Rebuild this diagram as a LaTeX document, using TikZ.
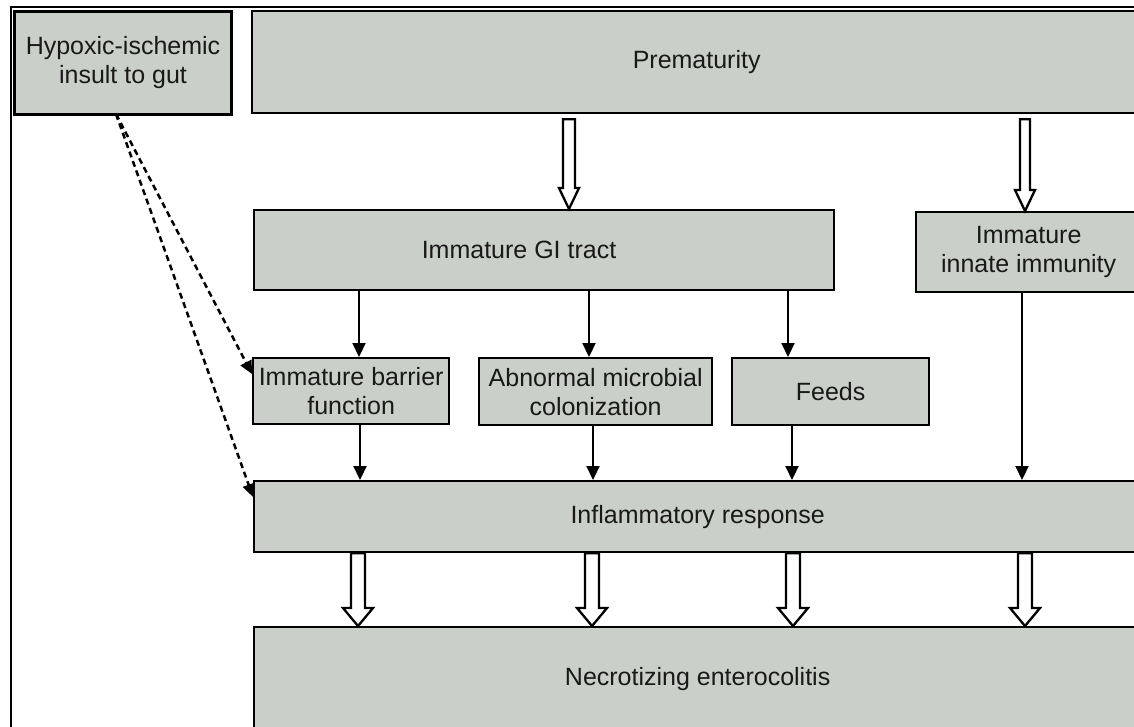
\documentclass[tikz,border=0pt]{standalone}
\usepackage{fontspec}
\setmainfont{Liberation Sans}
\usetikzlibrary{arrows.meta,calc}
\definecolor{boxfill}{RGB}{203,207,201}
\definecolor{txt}{RGB}{25,25,25}
\newcommand\holarrow[7]{% x, from node, gap, to node, shaft hw, head hw, head length
  \draw[hollowarrow] let \p1=(#2.south), \p2=(#4.north) in
    (#1pt-#5pt,\y1-#3pt) -- (#1pt-#5pt,\y2+#7pt) -- (#1pt-#6pt,\y2+#7pt) --
    (#1pt,\y2) -- (#1pt+#6pt,\y2+#7pt) -- (#1pt+#5pt,\y2+#7pt) --
    (#1pt+#5pt,\y1-#3pt) -- cycle;}
\begin{document}
\begin{tikzpicture}[x=1pt,y=-1pt,
  box/.style={draw=black, fill=boxfill, line width=2.3pt, inner sep=0pt,
    anchor=north west, text=txt, font=\fontsize{25}{29}\selectfont, align=center},
  lbl/.style={text=txt, font=\fontsize{25}{29}\selectfont, align=center, inner sep=0pt},
  thinarrow/.style={draw=black, line width=2.2pt, -{Triangle[width=13pt,length=14pt]}},
  hollowarrow/.style={draw=black, fill=white, line width=2.3pt, line join=miter},
  dashconn/.style={draw=black, line width=2.5pt, dash pattern=on 6pt off 4pt,
    -{Triangle[width=12pt,length=13pt]}}
]
\useasboundingbox (0,0) rectangle (1134,727);
\clip (0,0) rectangle (1134,727);
\fill[white] (0,0) rectangle (1134,727);
% outer frame
\draw[line width=2.5pt] (11,730) -- (11,7) -- (1140,7);
% boxes
\node[box, line width=3pt, minimum width=217pt, minimum height=103pt] (hyp) at (13,10) {Hypoxic-ischemic\\insult to gut};
\node[box, minimum width=889pt, minimum height=102pt] (prem) at (251,10) {Prematurity};
\node[box, minimum width=580pt, minimum height=80pt] (gi) at (253,209) {};
\node[lbl] (gitext) at (519,250) {Immature GI tract};
\node[box, minimum width=225pt, minimum height=80pt] (inn) at (915,211) {Immature\\innate immunity};
\node[box, minimum width=196pt, minimum height=66pt] (bar) at (252,357) {Immature barrier\\function};
\node[box, minimum width=233pt, minimum height=67pt] (mic) at (478,357) {Abnormal microbial\\colonization};
\node[box, minimum width=197pt, minimum height=67pt] (fee) at (731,357) {Feeds};
\node[box, minimum width=887pt, minimum height=71pt] (inf) at (253,480) {Inflammatory response};
\node[box, minimum width=887pt, minimum height=104pt] (nec) at (253,626) {Necrotizing enterocolitis};
% hollow arrows from Prematurity
\holarrow{569}{prem}{5}{gi}{6}{10}{21}
\holarrow{1025}{prem}{5}{inn}{5}{10}{21}
% hollow arrows to NEC
\holarrow{358}{inf}{0}{nec}{7}{15}{18}
\holarrow{592}{inf}{0}{nec}{7}{15}{18}
\holarrow{793}{inf}{0}{nec}{7}{15}{18}
\holarrow{1025}{inf}{0}{nec}{7}{15}{18}
% thin arrows
\draw[thinarrow] (gi.south -| 359,0) -- (bar.north -| 359,0);
\draw[thinarrow] (gi.south -| 589,0) -- (mic.north -| 589,0);
\draw[thinarrow] (gi.south -| 788,0) -- (fee.north -| 788,0);
\draw[thinarrow] (bar.south -| 360,0) -- (inf.north -| 360,0);
\draw[thinarrow] (mic.south -| 593,0) -- (inf.north -| 593,0);
\draw[thinarrow] (fee.south -| 792,0) -- (inf.north -| 792,0);
\draw[thinarrow] (inn.south -| 1022,0) -- (inf.north -| 1022,0);
% dashed arrows
\coordinate (hs) at (116,114);
\draw[dashconn] (hs) -- (bar.west |- 0,374);
\draw[dashconn] (hs) -- (inf.west |- 0,497);
\end{tikzpicture}
\end{document}
